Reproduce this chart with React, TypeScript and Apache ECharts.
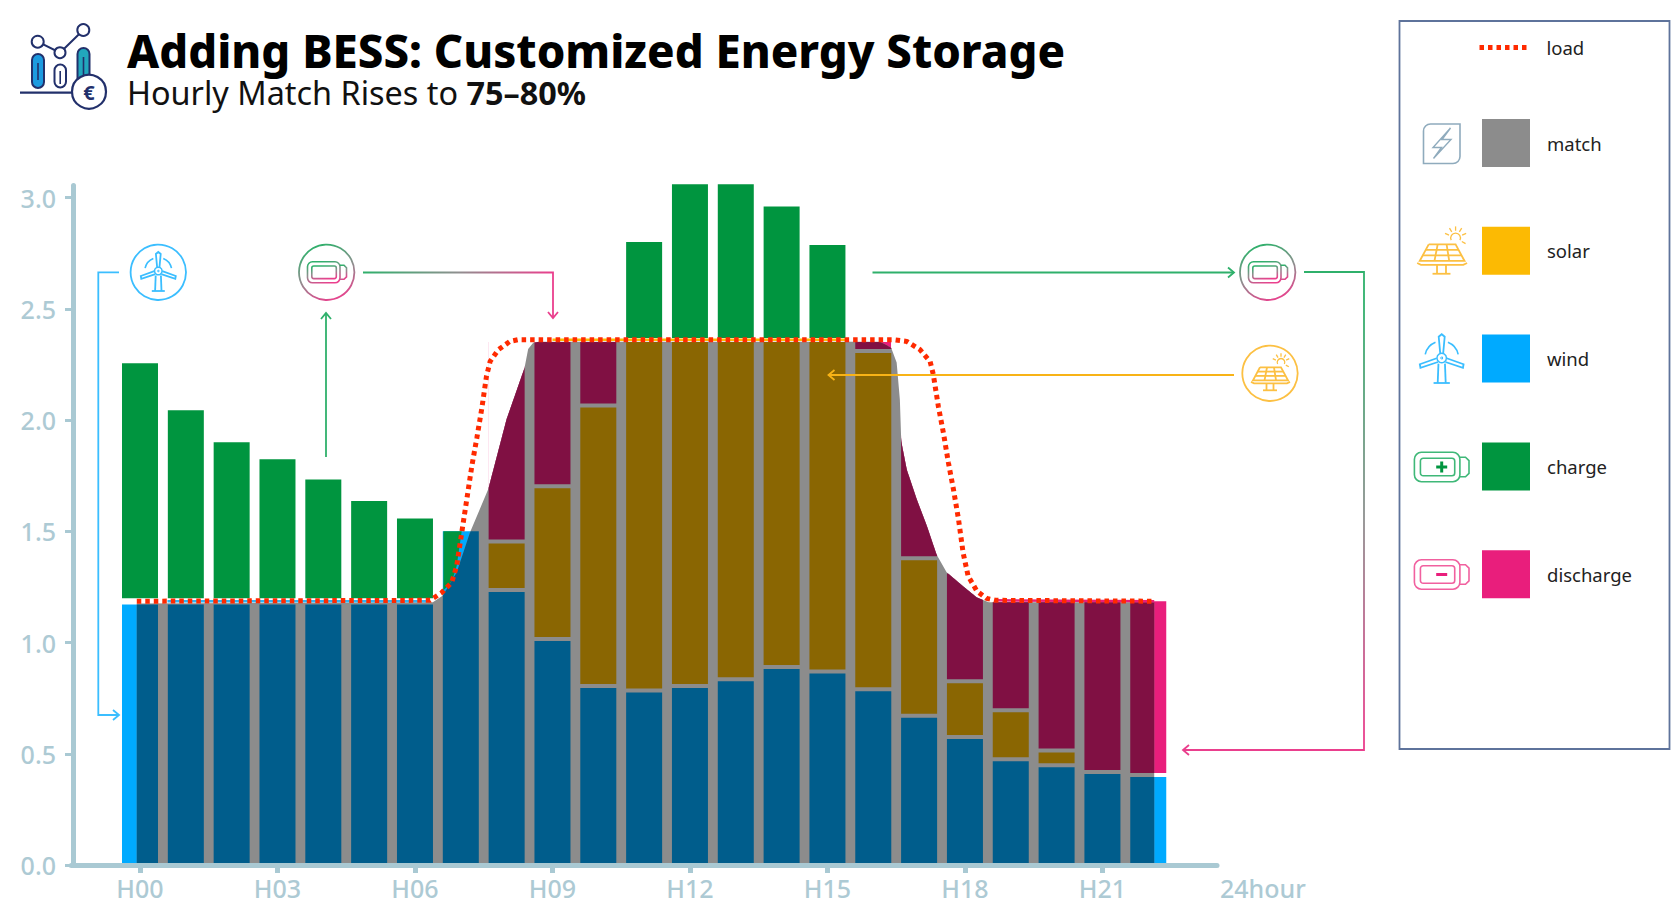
import React, { useEffect, useRef } from "react";
import * as echarts from "echarts";

const FONT = '"Noto Sans", sans-serif';
const COLORS = { match: "#8c8c8c", solar: "#fcba03", wind: "#00aaff", charge: "#00953f", discharge: "#e91e7c", load: "#ff2a00" };
const UNDER_MATCH = ["#005d8c", "#8a6602", "#801043"];

const categories = ["", "H00", "H01", "H02", "H03", "H04", "H05", "H06", "H07", "H08", "H09", "H10", "H11", "H12", "H13", "H14", "H15", "H16", "H17", "H18", "H19", "H20", "H21", "H22", " "];
const tickLabels = ["H00", "H03", "H06", "H09", "H12", "H15", "H18", "H21"];
const yTicks = [0, 0.5, 1, 1.5, 2, 2.5, 3];

const wind = [null, 1.18, 1.18, 1.18, 1.18, 1.18, 1.18, 1.18, 1.509, 1.236, 1.016, 0.805, 0.785, 0.805, 0.835, 0.89, 0.87, 0.79, 0.671, 0.575, 0.475, 0.449, 0.418, 0.405, null];
const solar = [null, 0.01, 0.01, 0.01, 0.01, 0.01, 0.01, 0.01, null, 0.219, 0.687, 1.261, 1.575, 1.555, 1.525, 1.47, 1.49, 1.521, 0.708, 0.251, 0.221, 0.066, null, null, null];
const discharge = [null, null, null, null, null, null, null, null, null, 0.905, 0.657, 0.294, null, null, null, null, null, 0.049, 0.981, 0.494, 0.494, 0.675, 0.777, 0.79, null];
const charge = [null, 1.075, 0.864, 0.72, 0.643, 0.552, 0.455, 0.377, null, null, null, null, 0.45, 0.71, 0.71, 0.61, 0.437, null, null, null, null, null, null, null, null];

// the part of the H07 charge bar that stands above the load curve
const chargeH07 = [[6.62, 1.5], [7.02, 1.5], [6.91, 1.344], [6.8, 1.27], [6.62, 1.235]];

const loadCurve = [
  [-0.07, 1.186], [6.33, 1.19], [6.58, 1.224], [6.8, 1.27], [6.91, 1.344], [7.02, 1.494], [7.13, 1.643], [7.24, 1.793], [7.35, 1.92],
  [7.46, 2.055], [7.56, 2.197], [7.64, 2.264], [7.82, 2.317], [8.07, 2.354], [8.25, 2.362], [16.43, 2.362], [16.73, 2.354], [17.02, 2.317],
  [17.24, 2.264], [17.31, 2.205], [17.42, 2.062], [17.53, 1.943], [17.64, 1.808], [17.75, 1.688], [17.86, 1.554], [17.96, 1.404],
  [18.07, 1.299], [18.26, 1.232], [18.47, 1.199], [18.66, 1.19], [22.13, 1.186],
];
const matchCurve = [
  [-0.07, 1.176], [6.39, 1.181], [6.61, 1.212], [6.91, 1.316], [7.2, 1.495], [7.6, 1.69], [8.0, 2.005], [8.39, 2.235], [8.47, 2.32], [8.58, 2.348],
  [8.7, 2.352], [16.15, 2.352], [16.39, 2.326], [16.51, 2.259], [16.58, 2.093], [16.61, 1.905], [16.73, 1.778], [16.95, 1.643], [17.17, 1.524],
  [17.38, 1.396], [17.6, 1.316], [17.96, 1.253], [18.26, 1.203], [18.52, 1.181], [22.13, 1.181],
];
const windEdge = [[0.6, 1.186], [6.33, 1.186]];
const solarEdge = [[9.0, 2.362], [15.4, 2.362]];
const dischargeEdge = [[18.66, 1.19], [22.13, 1.186]];

// [hour, stack bottom, stack top, source index] of each stacked piece that lies under the match area
const underMatchPieces: number[][] = [];
categories.forEach((_c, i) => {
  let base = 0;
  [wind, solar, discharge].forEach((values, k) => {
    const v = values[i];
    if (v) {
      underMatchPieces.push([i - 1, base, base + v, k]);
      base += v;
    }
  });
});

const Z = 50;
const line = (x1: number, y1: number, x2: number, y2: number, stroke: any, lineWidth = 1.8) => ({ type: "line", silent: true, z: Z, shape: { x1, y1, x2, y2 }, style: { stroke, lineWidth, fill: null } });
const poly = (points: number[][], stroke: any, lineWidth = 1.8) => ({ type: "polyline", silent: true, z: Z, shape: { points }, style: { stroke, lineWidth, fill: null } });
const circle = (cx: number, cy: number, r: number, stroke: any, lineWidth = 1.8, fill: any = null) => ({ type: "circle", silent: true, z: Z, shape: { cx, cy, r }, style: { stroke, lineWidth, fill } });
const rect = (x: number, y: number, width: number, height: number, r: any, stroke: any, lineWidth = 1.6, fill: any = null) => ({ type: "rect", silent: true, z: Z, shape: { x, y, width, height, r }, style: { stroke, lineWidth, fill } });
const arc = (cx: number, cy: number, r: number, startAngle: number, endAngle: number, stroke: any, lineWidth = 1.6) => ({ type: "arc", silent: true, z: Z, shape: { cx, cy, r, startAngle, endAngle, clockwise: true }, style: { stroke, lineWidth, fill: null } });

const head = (x: number, y: number, dir: string, color: any) => {
  const a = 6, b = 5;
  const pts: Record<string, number[][]> = {
    right: [[x - a, y - b], [x, y], [x - a, y + b]],
    left: [[x + a, y - b], [x, y], [x + a, y + b]],
    up: [[x - b, y + a], [x, y], [x + b, y + a]],
    down: [[x - b, y - a], [x, y], [x + b, y - a]],
  };
  return poly(pts[dir], color, 1.8);
};

const grad = (c0: string, c1: string, x1: number, y1: number, x2: number, y2: number) =>
  new echarts.graphic.LinearGradient(x1, y1, x2, y2, [{ offset: 0, color: c0 }, { offset: 0.5, color: "#8f8f8f" }, { offset: 1, color: c1 }], true);
const bboxGrad = () =>
  new echarts.graphic.LinearGradient(0.35, 0, 0.7, 1, [{ offset: 0, color: "#2fb06b" }, { offset: 0.5, color: "#8f8f8f" }, { offset: 1, color: "#ea3f8d" }]);

const battery = (cx: number, cy: number, s: number, stroke: any, sign?: string, signColor?: string) => {
  const out: any[] = [
    rect(cx - 19.5 * s, cy - 10.5 * s, 32.5 * s, 21 * s, 5 * s, stroke),
    poly([[cx + 13 * s, cy - 7 * s], [cx + 17 * s, cy - 7 * s], [cx + 19.5 * s, cy - 4.5 * s], [cx + 19.5 * s, cy + 4.5 * s], [cx + 17 * s, cy + 7 * s], [cx + 13 * s, cy + 7 * s]], stroke, 1.6),
    rect(cx - 15.2 * s, cy - 6.3 * s, 24.5 * s, 12.6 * s, 2 * s, stroke),
  ];
  if (sign) {
    out.push(line(cx - 5.5, cy, cx + 5.5, cy, signColor, 3));
    if (sign === "+") out.push(line(cx, cy - 5.5, cx, cy + 5.5, signColor, 3));
  }
  return out;
};

const turbine = (cx: number, cy: number, s: number, c: string) => [
  arc(cx, cy, 13.5 * s, -Math.PI * 0.93, -Math.PI * 0.62, c),
  arc(cx, cy, 13.5 * s, -Math.PI * 0.38, -Math.PI * 0.07, c),
  poly([[cx - 1.2 * s, cy - 4 * s], [cx - 2.4 * s, cy - 17 * s], [cx, cy - 19 * s], [cx + 2.4 * s, cy - 17 * s], [cx + 1.2 * s, cy - 4 * s]], c),
  poly([[cx - 4 * s, cy + 0.2 * s], [cx - 17.5 * s, cy + 5 * s], [cx - 17 * s, cy + 7.8 * s], [cx - 3 * s, cy + 3.2 * s]], c),
  poly([[cx + 4 * s, cy + 0.2 * s], [cx + 17.5 * s, cy + 5 * s], [cx + 17 * s, cy + 7.8 * s], [cx + 3 * s, cy + 3.2 * s]], c),
  circle(cx, cy, 3.8 * s, c, 1.5),
  circle(cx, cy, 0.8 * s, c, 1),
  line(cx - 2.6 * s, cy + 4.5 * s, cx - 3.2 * s, cy + 20 * s, c),
  line(cx + 2.6 * s, cy + 4.5 * s, cx + 3.2 * s, cy + 20 * s, c),
  line(cx - 6.5 * s, cy + 20 * s, cx + 6.5 * s, cy + 20 * s, c),
];

const solarIcon = (cx: number, cy: number, s: number, c: string) => {
  const P = (x: number, y: number) => [cx + x * s, cy + y * s];
  const out: any[] = [
    poly([P(-10, -6), P(11, -6), P(18, 7), P(-17, 7), P(-10, -6)], c),
    poly([P(-3, -6), P(-5.5, 7)], c),
    poly([P(4, -6), P(6, 7)], c),
    poly([P(-12.3, -1.7), P(13.3, -1.7)], c),
    poly([P(-14.6, 2.6), P(15.6, 2.6)], c),
    poly([P(-19, 8.6), P(-16, 10), P(17, 10), P(20, 8.6)], c),
    poly([P(-3.5, 10), P(-3.5, 17)], c),
    poly([P(3.5, 10), P(3.5, 17)], c),
    poly([P(-7, 17), P(7, 17)], c),
    arc(cx + 11 * s, cy - 11 * s, 3.8 * s, -Math.PI * 1.15, Math.PI * 0.15, c, 1.3),
  ];
  [[-7.5, -3.3], [-5, -8], [0, -9], [5, -8], [8, -3.5], [7, 4]].forEach(([dx, dy]) => {
    const n = Math.hypot(dx, dy);
    const a = 5.6, b = 9;
    out.push(poly([P(11 + (dx / n) * a, -11 + (dy / n) * a), P(11 + (dx / n) * b, -11 + (dy / n) * b)], c, 1.3));
  });
  return out;
};

const logo = () => {
  const navy = "#22306b";
  return [
    rect(32, 54, 12, 34, 6, navy, 2, "#1c9be0"),
    line(38, 63, 38, 80, navy, 1.6),
    rect(54.5, 64.5, 11.5, 23, 5.7, navy, 2, "#ffffff"),
    line(60.2, 71, 60.2, 84, navy, 1.6),
    rect(77.5, 48, 12, 40, 6, navy, 2, "#22a7bd"),
    line(83.5, 57, 83.5, 80, navy, 1.6),
    poly([[37.7, 41.7], [60, 52.7], [83.3, 30]], navy, 2),
    circle(37.7, 41.7, 6, navy, 2, "#fff"),
    circle(60, 52.7, 5.5, navy, 2, "#fff"),
    circle(83.3, 30, 6, navy, 2, "#fff"),
    line(20, 92.7, 72, 92.7, navy, 2.2),
    circle(89, 91.7, 17, navy, 2.2, "#fff"),
    { type: "text", silent: true, z: Z, style: { text: "€", x: 89, y: 92, align: "center", verticalAlign: "middle", fill: navy, fontFamily: FONT, fontWeight: 700, fontSize: 20 } },
  ];
};

const buildGraphic = () => {
  const blue = "#3bbeff", green = "#2fb06b", pink = "#ea3f8d", amber = "#fcc043", slate = "#8fabbd";
  const els: any[] = [];
  els.push({ type: "rect", silent: true, z: 1, shape: { x: 1399.5, y: 21, width: 270, height: 728 }, style: { stroke: "#5e739b", lineWidth: 1.8, fill: null } });
  els.push(...logo());
  els.push(circle(158.3, 272.3, 27.7, blue), ...turbine(158.3, 271, 1, blue));
  els.push(poly([[119, 272.3], [98.3, 272.3], [98.3, 715], [119, 715]], blue), head(119, 715, "right", blue));
  els.push(circle(326.7, 272.3, 27.7, bboxGrad()), ...battery(327, 272.3, 1, bboxGrad()));
  els.push(line(326, 457, 326, 313, green), head(326, 313, "up", green));
  els.push(poly([[363, 272.5], [553, 272.5], [553, 318]], grad(green, pink, 363, 272, 553, 272)), head(553, 318, "down", pink));
  els.push(circle(1267.7, 272.3, 27.7, bboxGrad()), ...battery(1268, 272.3, 1, bboxGrad()));
  els.push(line(872.5, 272.5, 1234, 272.5, green), head(1234, 272.5, "right", green));
  els.push(poly([[1304, 272], [1364, 272], [1364, 750], [1183, 750]], grad(green, pink, 0, 300, 0, 740)), head(1183, 750, "left", pink));
  els.push(circle(1270, 373.3, 27.7, amber), ...solarIcon(1270, 373.3, 1, amber));
  els.push(line(1234, 375, 828.5, 375, "#f8b317", 2), head(828.5, 375, "left", "#f8b317"));
  els.push(rect(1423.5, 124, 36.5, 39.5, [7, 0, 7, 0], slate, 1.6));
  els.push({ type: "polygon", silent: true, z: Z, shape: { points: [[1450.5, 128], [1433, 147.5], [1441.5, 147.5], [1433.5, 158.5], [1451, 139.5], [1442, 139.5]] }, style: { stroke: slate, lineWidth: 1.4, fill: null } });
  els.push(...solarIcon(1441.5, 252, 1.28, amber));
  els.push(...turbine(1441.7, 358, 1.25, blue));
  els.push(...battery(1441.7, 467, 1.4, "#3fb878", "+", "#00953f"));
  els.push(...battery(1441.7, 574.5, 1.4, "#f1609f", "-", "#e91e7c"));
  return els;
};

const stackBar = (name: string, values: (number | null)[], color: string) => ({
  name,
  type: "bar",
  stack: "supply",
  xAxisIndex: 0,
  barWidth: 40,
  clip: false,
  z: 2,
  silent: true,
  itemStyle: { color, borderColor: "#ffffff", borderWidth: 2 },
  data: values,
});

const edge = (points: number[][], color: string) => ({
  type: "line",
  xAxisIndex: 1,
  z: 6,
  silent: true,
  symbol: "none",
  lineStyle: { color, width: 2.5 },
  data: points,
});

export default function App() {
  const ref = useRef<HTMLDivElement>(null);
  useEffect(() => {
    if (!ref.current) return;
    const chart = echarts.init(ref.current, undefined, { renderer: "svg" });
    chart.setOption({
      animation: false,
      backgroundColor: "#ffffff",
      textStyle: { fontFamily: FONT },
      title: {
        left: 127,
        top: 27,
        padding: 0,
        itemGap: 3,
        text: "Adding BESS: Customized Energy Storage",
        textStyle: { fontFamily: FONT, fontSize: 45.5, fontWeight: 800, color: "#000000" },
        subtext: "Hourly Match Rises to {b|75–80%}",
        subtextStyle: { fontFamily: FONT, fontSize: 32.4, color: "#111111", rich: { b: { fontFamily: FONT, fontSize: 32.4, fontWeight: 700, color: "#111111" } } },
      },
      legend: [
        {
          left: 1477, top: 38, padding: 0, itemWidth: 50, itemHeight: 24, selectedMode: false,
          itemStyle: { color: "transparent", borderWidth: 0 },
          lineStyle: { color: COLORS.load, width: 5, type: [4.5, 4] },
          data: ["load"],
          textStyle: { fontFamily: FONT, fontSize: 18.5, color: "#222222", padding: [0, 0, 0, 12] },
        },
        {
          left: 1482, top: 119, padding: 0, orient: "vertical", itemWidth: 48, itemHeight: 48, itemGap: 59.8, icon: "rect", selectedMode: false,
          itemStyle: { borderWidth: 0 },
          data: [{ name: "match", itemStyle: { color: COLORS.match, borderWidth: 0 } }, "solar", "wind", "charge", "discharge"],
          textStyle: { fontFamily: FONT, fontSize: 18.5, color: "#222222", padding: [0, 0, 2, 12] },
        },
      ],
      grid: { left: 71.25, top: 185.5, width: 1145.75, height: 679.5, containLabel: false },
      xAxis: [
        {
          type: "category",
          data: categories,
          boundaryGap: true,
          z: 10,
          splitLine: { show: false },
          axisLine: { show: true, onZero: false, lineStyle: { color: "#a9c9d3", width: 5 } },
          axisTick: { show: true, alignWithLabel: true, interval: (_i: number, v: string) => tickLabels.includes(v), length: 8, lineStyle: { color: "#a9c9d3", width: 5 } },
          axisLabel: { interval: (_i: number, v: string) => tickLabels.includes(v), fontFamily: FONT, fontWeight: 500, fontSize: 25, color: "#adcad4", margin: 10 },
          name: "24hour",
          nameLocation: "end",
          nameGap: 3,
          nameTextStyle: { fontFamily: FONT, fontWeight: 500, fontSize: 25, color: "#adcad4", verticalAlign: "top", padding: [10, 0, 0, 0] },
        },
        { type: "value", show: false, min: -1.5, max: 23.5, splitLine: { show: false } },
      ],
      yAxis: {
        type: "value",
        min: 0,
        max: 3.055,
        offset: -1.75,
        z: 10,
        splitLine: { show: false },
        axisLine: { show: true, onZero: false, lineStyle: { color: "#a9c9d3", width: 5 } },
        axisTick: { show: true, customValues: yTicks, length: 8, lineStyle: { color: "#a9c9d3", width: 3 } },
        axisLabel: {
          customValues: yTicks,
          formatter: (v: number) => v.toFixed(1),
          fontFamily: FONT, fontWeight: 500, fontSize: 25, color: "#adcad4", margin: 17,
        },
      },
      series: [
        stackBar("wind", wind, COLORS.wind),
        stackBar("solar", solar, COLORS.solar),
        stackBar("discharge", discharge, COLORS.discharge),
        stackBar("charge", charge, COLORS.charge),
        {
          name: "charge above load",
          type: "custom",
          xAxisIndex: 1,
          z: 3,
          silent: true,
          data: [chargeH07[0]],
          renderItem: (_p: any, api: any) => ({
            type: "polygon",
            shape: { points: chargeH07.map((p) => api.coord(p)) },
            style: { fill: COLORS.charge },
          }),
        },
        {
          name: "outside match",
          type: "custom",
          xAxisIndex: 1,
          z: 3,
          silent: true,
          data: [matchCurve[0]],
          renderItem: (_p: any, api: any) => {
            const left = matchCurve.filter((p) => p[0] >= 7.6 && p[0] <= 8.58);
            const right = matchCurve.filter((p) => p[0] >= 16.39 && p[0] <= 18.52);
            const toPoly = (pts: number[][]) =>
              [...pts, [pts[pts.length - 1][0], 2.42], [pts[0][0], 2.42]].map((p) => api.coord(p));
            return {
              type: "group",
              children: [
                { type: "polygon", shape: { points: toPoly(left) }, style: { fill: "#ffffff" } },
                { type: "polygon", shape: { points: toPoly(right) }, style: { fill: "#ffffff" } },
              ],
            };
          },
        },
        {
          name: "match",
          type: "line",
          xAxisIndex: 1,
          z: 4,
          silent: true,
          symbol: "none",
          lineStyle: { width: 0, color: COLORS.match },
          itemStyle: { color: COLORS.match },
          areaStyle: { color: COLORS.match, opacity: 1 },
          data: matchCurve,
        },
        {
          name: "under match",
          type: "custom",
          xAxisIndex: 1,
          z: 5,
          silent: true,
          encode: { x: 0, y: [1, 2] },
          data: underMatchPieces,
          renderItem: (_p: any, api: any) => {
            const curve = matchCurve.map((p) => api.coord(p));
            const yAt = (x: number) => {
              for (let i = 1; i < curve.length; i++) {
                if (x <= curve[i][0]) {
                  const t = (x - curve[i - 1][0]) / (curve[i][0] - curve[i - 1][0] || 1);
                  return curve[i - 1][1] + t * (curve[i][1] - curve[i - 1][1]);
                }
              }
              return curve[curve.length - 1][1];
            };
            const center = api.coord([api.value(0), 0])[0];
            const xl = Math.max(center - 18, curve[0][0]);
            const xr = Math.min(center + 18, curve[curve.length - 1][0]);
            const bottom = api.coord([api.value(0), api.value(1)])[1] - 2;
            const top = api.coord([api.value(0), api.value(2)])[1] + 2;
            if (top >= bottom || xl >= xr) return null;
            const points: number[][] = [[xl, bottom], [xr, bottom]];
            for (let x = xr; x > xl; x -= 1) points.push([x, Math.min(bottom, Math.max(top, yAt(x)))]);
            points.push([xl, Math.min(bottom, Math.max(top, yAt(xl)))]);
            return { type: "polygon", shape: { points }, style: { fill: UNDER_MATCH[api.value(3)] } };
          },
        },
        edge(windEdge, "#2fb6f5"),
        edge(solarEdge, "#fcba03"),
        edge(dischargeEdge, "#e91e7c"),
        {
          name: "load",
          type: "line",
          xAxisIndex: 1,
          z: 7,
          silent: true,
          symbol: "none",
          itemStyle: { color: COLORS.load },
          lineStyle: { color: COLORS.load, width: 5, type: [4.5, 4] },
          data: loadCurve,
        },
      ],
      graphic: { elements: buildGraphic() },
    });
    return () => chart.dispose();
  }, []);
  return (
    <>
      <style>{`body{margin:0;background:#fff;overflow:hidden}`}</style>
      <div ref={ref} style={{ width: 1676, height: 910 }} />
    </>
  );
}
